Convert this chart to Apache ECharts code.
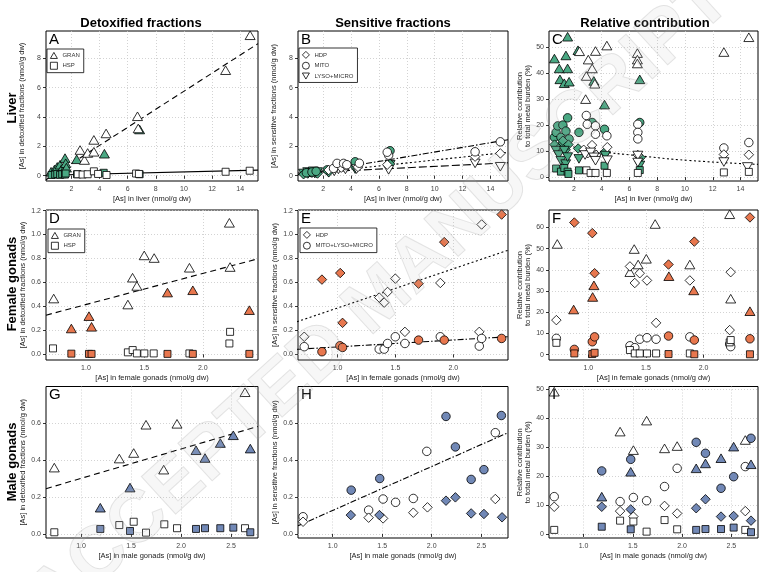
<!DOCTYPE html>
<html>
<head>
<meta charset="utf-8">
<script src="https://cdn.jsdelivr.net/npm/echarts@6/dist/echarts.min.js"></script>
<style>
  html, body { margin: 0; padding: 0; background: #fff; }
  #chart { width: 766px; height: 572px; }
</style>
</head>
<body>
<div id="chart"></div>
<script>
// ---- axis ranges and tick labels ----
var liverRange = [0.2, 15.26], liverTicks = [2, 4, 6, 8, 10, 12, 14];
var liverFracRange = [-0.36, 9.86], liverFracTicks = [0, 2, 4, 6, 8];
var liverRelRange = [-1.5, 56.2], relTicks50 = [0, 10, 20, 30, 40, 50];
var femRange = [0.658, 2.473], femTicks = [1.0, 1.5, 2.0];
var femFracRange = [-0.047, 1.205], femFracTicks = [0, 0.2, 0.4, 0.6, 0.8, 1.0, 1.2];
var femRelRange = [-2.5, 68.2], relTicks60 = [0, 10, 20, 30, 40, 50, 60];
var maleRange = [0.65, 2.77], maleTicks = [1.0, 1.5, 2.0, 2.5];
var maleFracRange = [-0.022, 0.798], maleFracTicks = [0, 0.2, 0.4, 0.6];
var maleRelRange = [-1.4, 51];

// ---- A: liver, detoxified ----
var aGranOpen = [[2.62,1.75],[2.93,1.07],[3.16,1.55],[3.6,1.63],[3.6,2.44],[4.47,2.88],[6.7,4.05],[6.75,3.22],[12.96,7.19],[14.7,9.57]];
var aGranFill = [[0.56,0.27],[0.8,0.42],[0.95,0.22],[1.0,0.6],[1.2,0.75],[1.3,0.45],[1.4,0.3],[1.55,1.2],[1.6,0.85],[1.65,0.55],[2.38,1.12],[4.35,1.5],[6.85,3.15]];
var aHspOpen = [[2.45,0.1],[2.8,0.08],[3.16,0.1],[3.6,0.3],[3.9,0.12],[4.5,0.05],[6.6,0.15],[6.8,0.12],[12.96,0.27],[14.67,0.34]];
var aHspFill = [[0.6,0.05],[0.85,0.08],[1.0,0.12],[1.2,0.06],[1.35,0.1],[1.55,0.08],[1.6,0.15],[2.4,0.1],[4.3,0.2],[6.85,0.1]];
var aFitGran = [[0.2,-0.28],[15.26,9.0]];
var aFitHsp = [[0.2,0.03],[15.26,0.38]];

// ---- B: liver, sensitive ----
var bHdpOpen = [[2.4,0.39],[2.9,0.55],[3.3,0.55],[3.6,0.7],[4.5,0.6],[6.6,0.75],[12.9,1.3],[14.71,1.52]];
var bMitoOpen = [[2.75,0.5],[3.0,0.84],[3.47,0.84],[3.7,0.75],[4.6,0.85],[6.7,1.4],[6.6,1.6],[12.9,1.63],[14.71,2.31]];
var bLysoOpen = [[2.8,0.3],[3.1,0.43],[3.6,0.43],[4.4,0.45],[6.7,0.4],[12.9,0.84],[14.71,0.61]];
var bHdpFill = [[0.6,0.1],[0.9,0.15],[1.2,0.2],[1.5,0.2],[1.6,0.15],[2.4,0.25],[4.3,0.6],[6.8,0.8]];
var bMitoFill = [[0.8,0.2],[1.2,0.25],[1.5,0.3],[2.3,0.4],[4.3,0.95],[6.8,1.7]];
var bLysoFill = [[0.6,0.15],[0.9,0.25],[1.1,0.2],[1.3,0.3],[1.4,0.15],[1.6,0.25],[2.4,0.2],[4.3,0.45],[6.8,0.75]];
var bFitMito = [[0.2,0.05],[15.26,2.45]];
var bFitHdp = [[0.2,0.08],[15.26,1.6]];
var bFitLyso = [[0.2,0.18],[15.26,0.88]];

// ---- C: liver, relative contribution ----
var cGranOpen = [[2.4,48.4],[2.84,30.0],[2.89,38.9],[3.03,45.2],[3.31,41.8],[3.5,35.9],[3.55,48.5],[4.37,50.6],[6.57,47.7],[6.57,45.2],[6.57,43.7],[12.8,48.1],[14.6,53.8]];
var cGranFill = [[0.59,45.6],[0.94,41.8],[0.99,37.6],[1.3,36.1],[1.42,46.8],[1.54,54.0],[1.54,41.8],[1.65,36.7],[2.29,48.8],[3.43,37.0],[4.2,27.9],[6.74,37.6]];
var cMitoOpen = [[2.89,23.7],[2.96,20.3],[3.55,19.7],[3.55,16.5],[4.37,15.9],[6.6,20.3],[6.6,17.2],[6.6,14.7],[12.8,11.2],[14.6,13.3]];
var cMitoFill = [[0.59,15.3],[0.71,17.2],[0.83,19.7],[1.06,15.3],[1.18,12.8],[1.2,20],[1.42,17.7],[1.54,22.8],[1.65,14.7],[2.36,17.2],[3.31,21.0],[4.2,18.4],[6.74,21.0]];
var cHdpOpen = [[2.7,10.5],[3.0,9.2],[3.3,12.3],[3.6,8.5],[4.4,11.5],[6.6,8.5],[12.8,8.7],[14.6,8.6]];
var cHdpFill = [[0.6,12.5],[0.9,11],[1.2,14],[1.4,10.5],[1.6,12.5],[2.3,11],[4.2,9.5],[6.8,7.5]];
var cLysoOpen = [[2.8,8.5],[3.2,9.5],[3.43,7.6],[3.55,6.3],[4.4,6.5],[6.6,8.3],[6.6,5.6],[12.8,5.8],[14.5,3.9]];
var cLysoFill = [[0.71,10.2],[0.9,8.5],[1.06,6.3],[1.3,10.2],[1.4,5],[1.54,7.7],[2.36,7.0],[4.26,8.3],[6.74,4.5]];
var cHspOpen = [[2.9,2.6],[3.2,1.6],[3.55,1.6],[4.37,1.6],[6.6,1.6],[12.8,1.8],[14.6,2.0]];
var cHspFill = [[0.71,3.3],[1.06,2.1],[1.3,3.5],[1.54,2.1],[1.6,1.2],[2.36,2.6],[4.2,4.4],[6.74,2.7]];
var cFit = [[1.0,12.8],[2.0,11.6],[3.7,10.0],[6.5,8.3],[10.3,6.4],[15.26,4.9]];

// ---- D: female gonads, detoxified ----
var dGranOpen = [[0.724,0.466],[1.359,0.416],[1.399,0.64],[1.436,0.571],[1.499,0.826],[1.584,0.804],[1.886,0.723],[2.228,1.098],[2.234,0.729]];
var dGranFill = [[0.875,0.216],[1.026,0.319],[1.048,0.23],[1.698,0.516],[1.915,0.535],[2.399,0.369]];
var dHspOpen = [[0.718,0.05],[1.359,0.017],[1.4,0.036],[1.436,0.008],[1.5,0.008],[1.58,0.008],[1.886,0.008],[2.228,0.091],[2.234,0.188]];
var dHspFill = [[0.875,0.006],[1.026,0.004],[1.048,0.004],[1.698,0.004],[1.915,0.004],[2.399,0.004]];
var dFitGran = [[0.658,0.327],[2.473,0.798]];

// ---- E: female gonads, sensitive ----
var eHdpOpen = [[0.712,0.147],[1.36,0.474],[1.403,0.432],[1.432,0.521],[1.499,0.632],[1.582,0.188],[1.888,0.596],[2.225,0.188],[2.245,1.084]];
var eHdpFill = [[0.865,0.624],[1.023,0.679],[1.043,0.263],[1.7,0.59],[1.922,0.937],[2.418,1.167]];
var eMlmOpen = [[0.712,0.064],[1.36,0.044],[1.403,0.044],[1.432,0.091],[1.499,0.147],[1.582,0.091],[1.888,0.147],[2.225,0.069],[2.245,0.133]];
var eMlmFill = [[0.865,0.022],[1.02,0.072],[1.043,0.058],[1.7,0.119],[1.922,0.119],[2.418,0.133]];
var eFitHdp = [[0.648,0.272],[2.47,0.868]];
var eFitMlm = [[0.648,0.042],[2.47,0.147]];

// ---- F: female gonads, relative contribution ----
var fGranOpen = [[0.73,52.2],[1.361,38.9],[1.398,49.8],[1.432,42.5],[1.503,45.2],[1.58,61.6],[1.881,42.5],[2.227,66.2],[2.236,26.4]];
var fGranFill = [[0.872,21.3],[1.037,27.2],[1.048,32.7],[1.699,37.0],[1.915,30.3],[2.403,20.5]];
var fHdpOpen = [[0.722,16.3],[1.361,41.6],[1.403,33.8],[1.446,38.4],[1.509,35.0],[1.588,15.0],[1.881,35.0],[2.227,11.6],[2.236,38.9]];
var fHdpFill = [[0.878,62.3],[1.034,57.3],[1.054,38.4],[1.696,42.5],[1.92,53.3],[2.403,64.7]];
var fMlmOpen = [[0.722,7.7],[1.361,4.2],[1.403,3.3],[1.446,7.3],[1.509,8.0],[1.588,7.3],[1.881,8.4],[2.227,5.0],[2.236,3.8]];
var fMlmFill = [[0.878,2.5],[1.034,6.1],[1.054,8.4],[1.696,8.8],[1.92,6.9],[2.403,7.5]];
var fHspOpen = [[0.722,5.6],[1.361,2.2],[1.403,0.6],[1.446,0.6],[1.509,0.6],[1.588,0.6],[1.881,0.6],[2.227,5.8],[2.236,6.9]];
var fHspFill = [[0.878,0.6],[1.034,0.3],[1.054,0.9],[1.696,0.3],[1.92,0.2],[2.403,0.2]];

// ---- G: male gonads, detoxified ----
var gGranOpen = [[0.733,0.359],[1.383,0.408],[1.527,0.438],[1.65,0.591],[1.827,0.348],[1.96,0.596],[2.64,0.767]];
var gGranFill = [[1.193,0.142],[1.49,0.251],[2.15,0.453],[2.24,0.411],[2.393,0.492],[2.523,0.534],[2.693,0.462]];
var gHspOpen = [[0.733,0.009],[1.383,0.048],[1.527,0.066],[1.65,0.007],[1.833,0.052],[1.96,0.031],[2.64,0.031]];
var gHspFill = [[1.193,0.027],[1.49,0.016],[2.15,0.027],[2.24,0.031],[2.393,0.031],[2.523,0.034],[2.693,0.009]];
var gFitGran = [[0.65,0.245],[2.77,0.582]];

// ---- H: male gonads, sensitive ----
var hMlmOpen = [[0.701,0.093],[1.363,0.129],[1.509,0.189],[1.635,0.171],[1.814,0.192],[1.95,0.447],[2.642,0.548]];
var hMlmFill = [[1.187,0.237],[1.475,0.3],[2.144,0.636],[2.239,0.471],[2.398,0.295],[2.527,0.348],[2.703,0.641]];
var hHdpOpen = [[0.701,0.066],[1.363,0.088],[1.509,0.084],[1.814,0.115],[1.957,0.144],[2.642,0.189]];
var hHdpFill = [[1.183,0.102],[1.472,0.102],[2.144,0.18],[2.239,0.198],[2.398,0.111],[2.527,0.108],[2.71,0.09]];
var hFitMlm = [[0.65,0.044],[2.77,0.548]];

// ---- I: male gonads, relative contribution ----
var iGranOpen = [[0.703,49.2],[1.371,35.4],[1.506,29.0],[1.64,39.2],[1.822,29.6],[1.95,30.4],[2.641,32.5]];
var iGranFill = [[1.185,12.9],[1.479,21.5],[2.143,22.7],[2.237,24.4],[2.395,26.2],[2.523,30.2],[2.699,24.1]];
var iMlmOpen = [[0.703,12.9],[1.371,11.2],[1.506,12.6],[1.64,11.5],[1.822,16.4],[1.95,22.7],[2.641,23.3]];
var iMlmFill = [[1.185,21.8],[1.479,25.8],[2.143,31.7],[2.237,27.9],[2.395,15.8],[2.523,19.8],[2.699,33.1]];
var iHdpOpen = [[0.703,9.4],[1.371,7.9],[1.506,6.0],[1.822,9.7],[1.95,7.1],[2.641,7.9]];
var iHdpFill = [[1.185,9.4],[1.479,8.5],[2.143,8.9],[2.237,12.0],[2.395,6.0],[2.523,6.2],[2.699,4.6]];
var iHspOpen = [[0.703,1.4],[1.371,4.6],[1.506,4.3],[1.64,0.8],[1.822,4.8],[1.95,1.6],[2.641,1.4]];
var iHspFill = [[1.185,2.5],[1.479,1.6],[2.143,1.4],[2.237,1.7],[2.395,1.7],[2.523,2.2],[2.699,0.6]];

// ---- styles ----
var FONT = 'Arial, "Liberation Sans", Helvetica, sans-serif';
var GREEN = '#4aa883', ORANGE = '#e8774e', BLUE = '#7188b6', OPEN = '#ffffff';
var TRI = 'path://M5,0L10,8.66L0,8.66Z';
var INV = 'path://M0,0L10,0L5,8.66Z';
var SZ = { tri: [10, 8.6], inv: [10, 8.6], rect: 7, circle: 8.5, diamond: 9.5 };
var SYM = { tri: TRI, inv: INV, rect: 'rect', circle: 'circle', diamond: 'diamond' };

var cols = [[46, 212], [298, 210], [549, 209]];
var rows = [[31, 150], [210, 150], [386.5, 151.5]];

var grids = [], xAxes = [], yAxes = [], series = [];

function fmt(dec) {
  return function (v) { return dec ? v.toFixed(dec) : String(v); };
}

function panel(gi, xr, xt, xdec, xname, yr, yt, ydec, yname, yGap) {
  var c = cols[gi % 3], r = rows[Math.floor(gi / 3)];
  grids.push({ left: c[0], top: r[0], width: c[1], height: r[1], show: true,
    backgroundColor: '#fff', borderColor: '#000', borderWidth: 1, containLabel: false });
  var common = {
    gridIndex: gi, type: 'value', axisLine: { show: false },
    splitLine: { show: true, lineStyle: { color: '#c8c8c8', width: 0.8, type: [1, 2] } },
    nameLocation: 'middle',
    nameTextStyle: { fontSize: 7.5, color: '#222', fontFamily: FONT, lineHeight: 8 }
  };
  xAxes.push(Object.assign({}, common, {
    min: xr[0], max: xr[1], name: xname, nameGap: 14,
    axisTick: { show: true, customValues: xt, length: 3, lineStyle: { color: '#000', width: 0.8 } },
    axisLabel: { customValues: xt, fontSize: 7, color: '#444', fontFamily: FONT, margin: 5, formatter: fmt(xdec) }
  }));
  yAxes.push(Object.assign({}, common, {
    min: yr[0], max: yr[1], name: yname, nameGap: yGap,
    axisTick: { show: true, customValues: yt, length: 3, lineStyle: { color: '#000', width: 0.8 } },
    axisLabel: { customValues: yt, fontSize: 7, color: '#444', fontFamily: FONT, margin: 5, formatter: fmt(ydec) }
  }));
}

function pts(gi, name, data, shape, fill) {
  series.push({ type: 'scatter', name: name, xAxisIndex: gi, yAxisIndex: gi, data: data,
    symbol: SYM[shape], symbolSize: SZ[shape], silent: true, z: 3,
    itemStyle: { color: fill, borderColor: '#000', borderWidth: 0.8, opacity: 1 } });
}

function fit(gi, data, dash, smooth) {
  series.push({ type: 'line', xAxisIndex: gi, yAxisIndex: gi, data: data, symbol: 'none',
    smooth: !!smooth, silent: true, z: 2, clip: true,
    lineStyle: { color: '#000', width: 1.1, type: dash } });
}

var DASH = [6, 4], DOT = [2, 2.5], DASHDOT = [6, 2, 1.5, 2];

// panels
panel(0, liverRange, liverTicks, 0, '[As] in liver (nmol/g dw)', liverFracRange, liverFracTicks, 0, '[As] in detoxified fractions (nmol/g dw)', 20);
panel(1, liverRange, liverTicks, 0, '[As] in liver (nmol/g dw)', liverFracRange, liverFracTicks, 0, '[As] in sensitive fractions (nmol/g dw)', 20);
panel(2, liverRange, liverTicks, 0, '[As] in liver (nmol/g dw)', liverRelRange, relTicks50, 0, 'Relative contribution\nto total metal burden (%)', 17);
panel(3, femRange, femTicks, 1, '[As] in female gonads (nmol/g dw)', femFracRange, femFracTicks, 1, '[As] in detoxified fractions (nmol/g dw)', 18);
panel(4, femRange, femTicks, 1, '[As] in female gonads (nmol/g dw)', femFracRange, femFracTicks, 1, '[As] in sensitive fractions (nmol/g dw)', 18);
panel(5, femRange, femTicks, 1, '[As] in female gonads (nmol/g dw)', femRelRange, relTicks60, 0, 'Relative contribution\nto total metal burden (%)', 17);
panel(6, maleRange, maleTicks, 1, '[As] in male gonads (nmol/g dw)', maleFracRange, maleFracTicks, 1, '[As] in detoxified fractions (nmol/g dw)', 18);
panel(7, maleRange, maleTicks, 1, '[As] in male gonads (nmol/g dw)', maleFracRange, maleFracTicks, 1, '[As] in sensitive fractions (nmol/g dw)', 18);
panel(8, maleRange, maleTicks, 1, '[As] in male gonads (nmol/g dw)', maleRelRange, relTicks50, 0, 'Relative contribution\nto total metal burden (%)', 17);

// A
fit(0, aFitGran, DASH); fit(0, aFitHsp, 'solid');
pts(0, 'gran-f', aGranFill, 'tri', GREEN); pts(0, 'hsp-f', aHspFill, 'rect', GREEN);
pts(0, 'GRAN', aGranOpen, 'tri', OPEN); pts(0, 'HSP', aHspOpen, 'rect', OPEN);
// B
fit(1, bFitMito, DASHDOT); fit(1, bFitHdp, DOT); fit(1, bFitLyso, [8, 3]);
pts(1, 'lyso-f', bLysoFill, 'inv', GREEN); pts(1, 'hdp-f', bHdpFill, 'diamond', GREEN); pts(1, 'mito-f', bMitoFill, 'circle', GREEN);
pts(1, 'LYSO+MICRO', bLysoOpen, 'inv', OPEN); pts(1, 'HDP', bHdpOpen, 'diamond', OPEN); pts(1, 'MITO', bMitoOpen, 'circle', OPEN);
// C
fit(2, cFit, DOT, true);
pts(2, 'c1', cGranFill, 'tri', GREEN); pts(2, 'c2', cMitoFill, 'circle', GREEN); pts(2, 'c3', cHdpFill, 'diamond', GREEN);
pts(2, 'c4', cLysoFill, 'inv', GREEN); pts(2, 'c5', cHspFill, 'rect', GREEN);
pts(2, 'c6', cGranOpen, 'tri', OPEN); pts(2, 'c7', cMitoOpen, 'circle', OPEN); pts(2, 'c8', cHdpOpen, 'diamond', OPEN);
pts(2, 'c9', cLysoOpen, 'inv', OPEN); pts(2, 'c10', cHspOpen, 'rect', OPEN);
// D
fit(3, dFitGran, DASH);
pts(3, 'GRAN', dGranOpen, 'tri', OPEN); pts(3, 'HSP', dHspOpen, 'rect', OPEN);
pts(3, 'd1', dGranFill, 'tri', ORANGE); pts(3, 'd2', dHspFill, 'rect', ORANGE);
// E
fit(4, eFitHdp, DOT); fit(4, eFitMlm, DASHDOT);
pts(4, 'HDP', eHdpOpen, 'diamond', OPEN); pts(4, 'MITO+LYSO+MICRO', eMlmOpen, 'circle', OPEN);
pts(4, 'e1', eHdpFill, 'diamond', ORANGE); pts(4, 'e2', eMlmFill, 'circle', ORANGE);
// F
pts(5, 'f1', fGranOpen, 'tri', OPEN); pts(5, 'f2', fHdpOpen, 'diamond', OPEN);
pts(5, 'f3', fMlmOpen, 'circle', OPEN); pts(5, 'f4', fHspOpen, 'rect', OPEN);
pts(5, 'f5', fGranFill, 'tri', ORANGE); pts(5, 'f6', fHdpFill, 'diamond', ORANGE);
pts(5, 'f7', fMlmFill, 'circle', ORANGE); pts(5, 'f8', fHspFill, 'rect', ORANGE);
// G
fit(6, gFitGran, DASH);
pts(6, 'g1', gGranOpen, 'tri', OPEN); pts(6, 'g2', gHspOpen, 'rect', OPEN);
pts(6, 'g3', gGranFill, 'tri', BLUE); pts(6, 'g4', gHspFill, 'rect', BLUE);
// H
fit(7, hFitMlm, DASHDOT);
pts(7, 'h1', hMlmOpen, 'circle', OPEN); pts(7, 'h2', hHdpOpen, 'diamond', OPEN);
pts(7, 'h3', hMlmFill, 'circle', BLUE); pts(7, 'h4', hHdpFill, 'diamond', BLUE);
// I
pts(8, 'i1', iGranOpen, 'tri', OPEN); pts(8, 'i2', iMlmOpen, 'circle', OPEN);
pts(8, 'i3', iHdpOpen, 'diamond', OPEN); pts(8, 'i4', iHspOpen, 'rect', OPEN);
pts(8, 'i5', iGranFill, 'tri', BLUE); pts(8, 'i6', iMlmFill, 'circle', BLUE);
pts(8, 'i7', iHdpFill, 'diamond', BLUE); pts(8, 'i8', iHspFill, 'rect', BLUE);

function legend(left, top, items) {
  return { left: left, top: top, orient: 'vertical', selectedMode: false,
    backgroundColor: '#fff', borderColor: '#000', borderWidth: 0.8, padding: [3, 4, 3, 3],
    itemWidth: 7, itemHeight: 7, itemGap: 3,
    textStyle: { fontSize: 6, color: '#333', fontFamily: FONT },
    data: items.map(function (it) {
      return { name: it[0], icon: SYM[it[1]],
        itemStyle: { color: '#fff', borderColor: '#000', borderWidth: 0.8 } };
    }) };
}

var letters = ['A', 'B', 'C', 'D', 'E', 'F', 'G', 'H', 'I'];
var graphics = [];
letters.forEach(function (L, i) {
  var c = cols[i % 3], r = rows[Math.floor(i / 3)];
  graphics.push({ type: 'text', x: c[0] + 3, y: r[0] + 1, z: 10,
    style: { text: L, font: '15px ' + FONT, fill: '#000' } });
});
[['Detoxified fractions', 141], ['Sensitive fractions', 393], ['Relative contribution', 645]].forEach(function (t) {
  graphics.push({ type: 'text', x: t[1], y: 23, z: 10,
    style: { text: t[0], font: 'bold 13px ' + FONT, fill: '#000', textAlign: 'center', textVerticalAlign: 'middle' } });
});
[['Liver', 108], ['Female gonads', 284], ['Male gonads', 462]].forEach(function (t) {
  graphics.push({ type: 'text', x: 12, y: t[1], rotation: Math.PI / 2, z: 10,
    style: { text: t[0], font: 'bold 13px ' + FONT, fill: '#000', textAlign: 'center', textVerticalAlign: 'middle' } });
});
graphics.push({ type: 'text', x: 380, y: 300, rotation: 0.74, z: 100, silent: true,
  style: { text: 'ACCEPTED MANUSCRIPT', font: 'bold 74px ' + FONT, fill: 'rgba(190,190,190,0.12)',
    stroke: 'rgba(140,140,140,0.22)', lineWidth: 1, textAlign: 'center', textVerticalAlign: 'middle' } });

var chart = echarts.init(document.getElementById('chart'), null, { renderer: 'canvas' });
chart.setOption({
  animation: false,
  backgroundColor: '#fff',
  textStyle: { fontFamily: FONT },
  grid: grids,
  xAxis: xAxes,
  yAxis: yAxes,
  legend: [
    legend(47, 49, [['GRAN', 'tri'], ['HSP', 'rect']]),
    legend(299, 48, [['HDP', 'diamond'], ['MITO', 'circle'], ['LYSO+MICRO', 'inv']]),
    legend(48, 229, [['GRAN', 'tri'], ['HSP', 'rect']]),
    legend(300, 228, [['HDP', 'diamond'], ['MITO+LYSO+MICRO', 'circle']])
  ],
  series: series,
  graphic: graphics
});
</script>
</body>
</html>
